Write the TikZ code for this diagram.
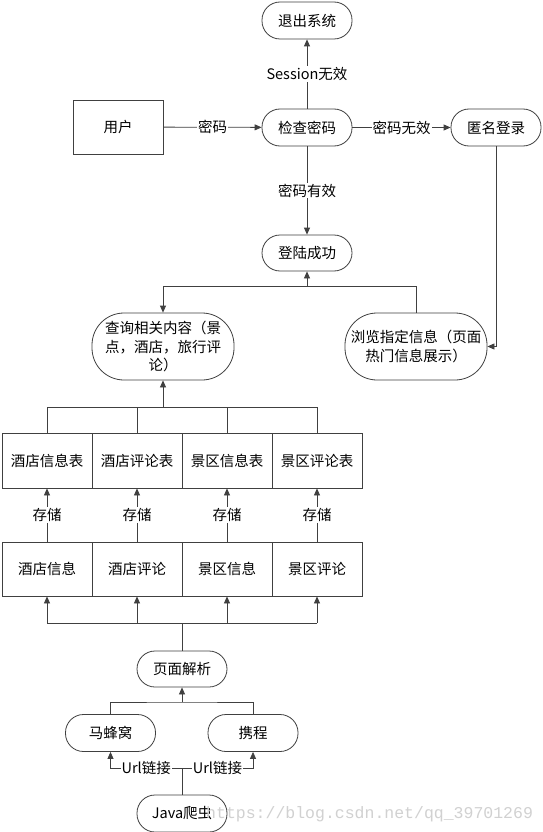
\documentclass[tikz,border=0pt]{standalone}
\usepackage{fontspec}
\setmainfont{Noto Sans CJK SC}
\newfontfamily\wmfont{Liberation Mono}
\usetikzlibrary{arrows.meta}
\begin{document}
\begin{tikzpicture}[x=1pt,y=-1pt,
  every node/.style={font=\fontsize{14.5}{18.5}\selectfont},
  term/.style={draw=black!75, line width=0.8pt, rounded corners=18pt, minimum width=90pt, minimum height=37pt, inner sep=0pt},
  bigterm/.style={draw=black!75, line width=0.8pt, rounded corners=32pt, minimum width=142pt, minimum height=67pt, inner sep=0pt, align=center},
  cell/.style={draw=black!75, line width=0.8pt, minimum width=90pt, minimum height=55pt, inner sep=0pt},
  conn/.style={draw=black!75, line width=0.8pt},
  arr/.style={conn, -{Triangle[length=7pt,width=6pt]}},
  lbl/.style={fill=white, inner sep=1pt},
]
\fill[white] (0,0) rectangle (543,832);
\useasboundingbox (0,0) rectangle (543,832);

% nodes
\node[term] (exit) at (307,20.5) {退出系统};
\node[cell, minimum height=54pt] (user) at (118,127) {用户};
\node[term] (check) at (307,127.5) {检查密码};
\node[term] (anon) at (496,127.5) {匿名登录};
\node[term, minimum height=36pt] (succ) at (307,253) {登陆成功};
\node[bigterm] (query) at (163,346.5) {查询相关内容（景\\点，酒店，旅行评\\论）};
\node[bigterm] (browse) at (416,346.5) {浏览指定信息（页面\\热门信息展示）};

\node[cell] (t1) at (47,460.5) {酒店信息表};
\node[cell] (t2) at (137,460.5) {酒店评论表};
\node[cell] (t3) at (227,460.5) {景区信息表};
\node[cell] (t4) at (317,460.5) {景区评论表};

\node[cell, minimum height=54pt] (d1) at (47,569) {酒店信息};
\node[cell, minimum height=54pt] (d2) at (137,569) {酒店评论};
\node[cell, minimum height=54pt] (d3) at (227,569) {景区信息};
\node[cell, minimum height=54pt] (d4) at (317,569) {景区评论};

\node[term, minimum height=36pt] (parse) at (182,669) {页面解析};
\node[term] (mfw) at (110.5,733) {马蜂窝};
\node[term] (ctrip) at (253,733) {携程};
\node[term] (java) at (182,813.5) {Java爬虫};

% connectors
\draw[arr] (user) -- node[lbl]{密码} (check);
\draw[arr] (check) -- node[lbl]{Session无效} (exit);
\draw[arr] (check) -- node[lbl]{密码无效} (anon);
\draw[arr] (check) -- node[lbl]{密码有效} (succ);

\coordinate (jq) at (163,286);
\coordinate (js) at (307,286);
\draw[arr] (browse.north) |- (jq) -- (query.north);
\draw[arr] (js) -- (succ.south);
\draw[arr] (anon.south) |- (browse.east);

\coordinate (b1) at (47,407);
\coordinate (bq) at (163,407);
\draw[conn] (t1.north) -- (t1.north |- b1) -- (t4.north |- b1) -- (t4.north);
\draw[conn] (t2.north) -- (t2.north |- b1);
\draw[conn] (t3.north) -- (t3.north |- b1);
\draw[arr] (bq) -- (query.south);

\draw[arr] (d1) -- node[lbl]{存储} (t1);
\draw[arr] (d2) -- node[lbl]{存储} (t2);
\draw[arr] (d3) -- node[lbl]{存储} (t3);
\draw[arr] (d4) -- node[lbl]{存储} (t4);

\coordinate (c) at (182,623);
\draw[conn] (parse.north) -- (c);
\draw[conn] (d1.south |- c) -- (d4.south |- c);
\draw[arr] (d1.south |- c) -- (d1.south);
\draw[arr] (d2.south |- c) -- (d2.south);
\draw[arr] (d3.south |- c) -- (d3.south);
\draw[arr] (d4.south |- c) -- (d4.south);

\coordinate (p) at (182,702);
\draw[conn] (mfw.north) |- (p) -| (ctrip.north);
\draw[arr] (p) -- (parse.south);

\coordinate (jj) at (182,768);
\draw[conn] (java.north) -- (jj);
\draw[arr] (jj) -| node[lbl, pos=0.25]{Url链接} (mfw.south);
\draw[arr] (jj) -| node[lbl, pos=0.25]{Url链接} (ctrip.south);

% watermark
\node[anchor=base west, inner sep=0pt, text=black!18, font=\wmfont\fontsize{16.5}{16.5}\selectfont] (wm) at (206,818) {https://blog.csdn.net/qq\_39701269};
\end{tikzpicture}
\end{document}
